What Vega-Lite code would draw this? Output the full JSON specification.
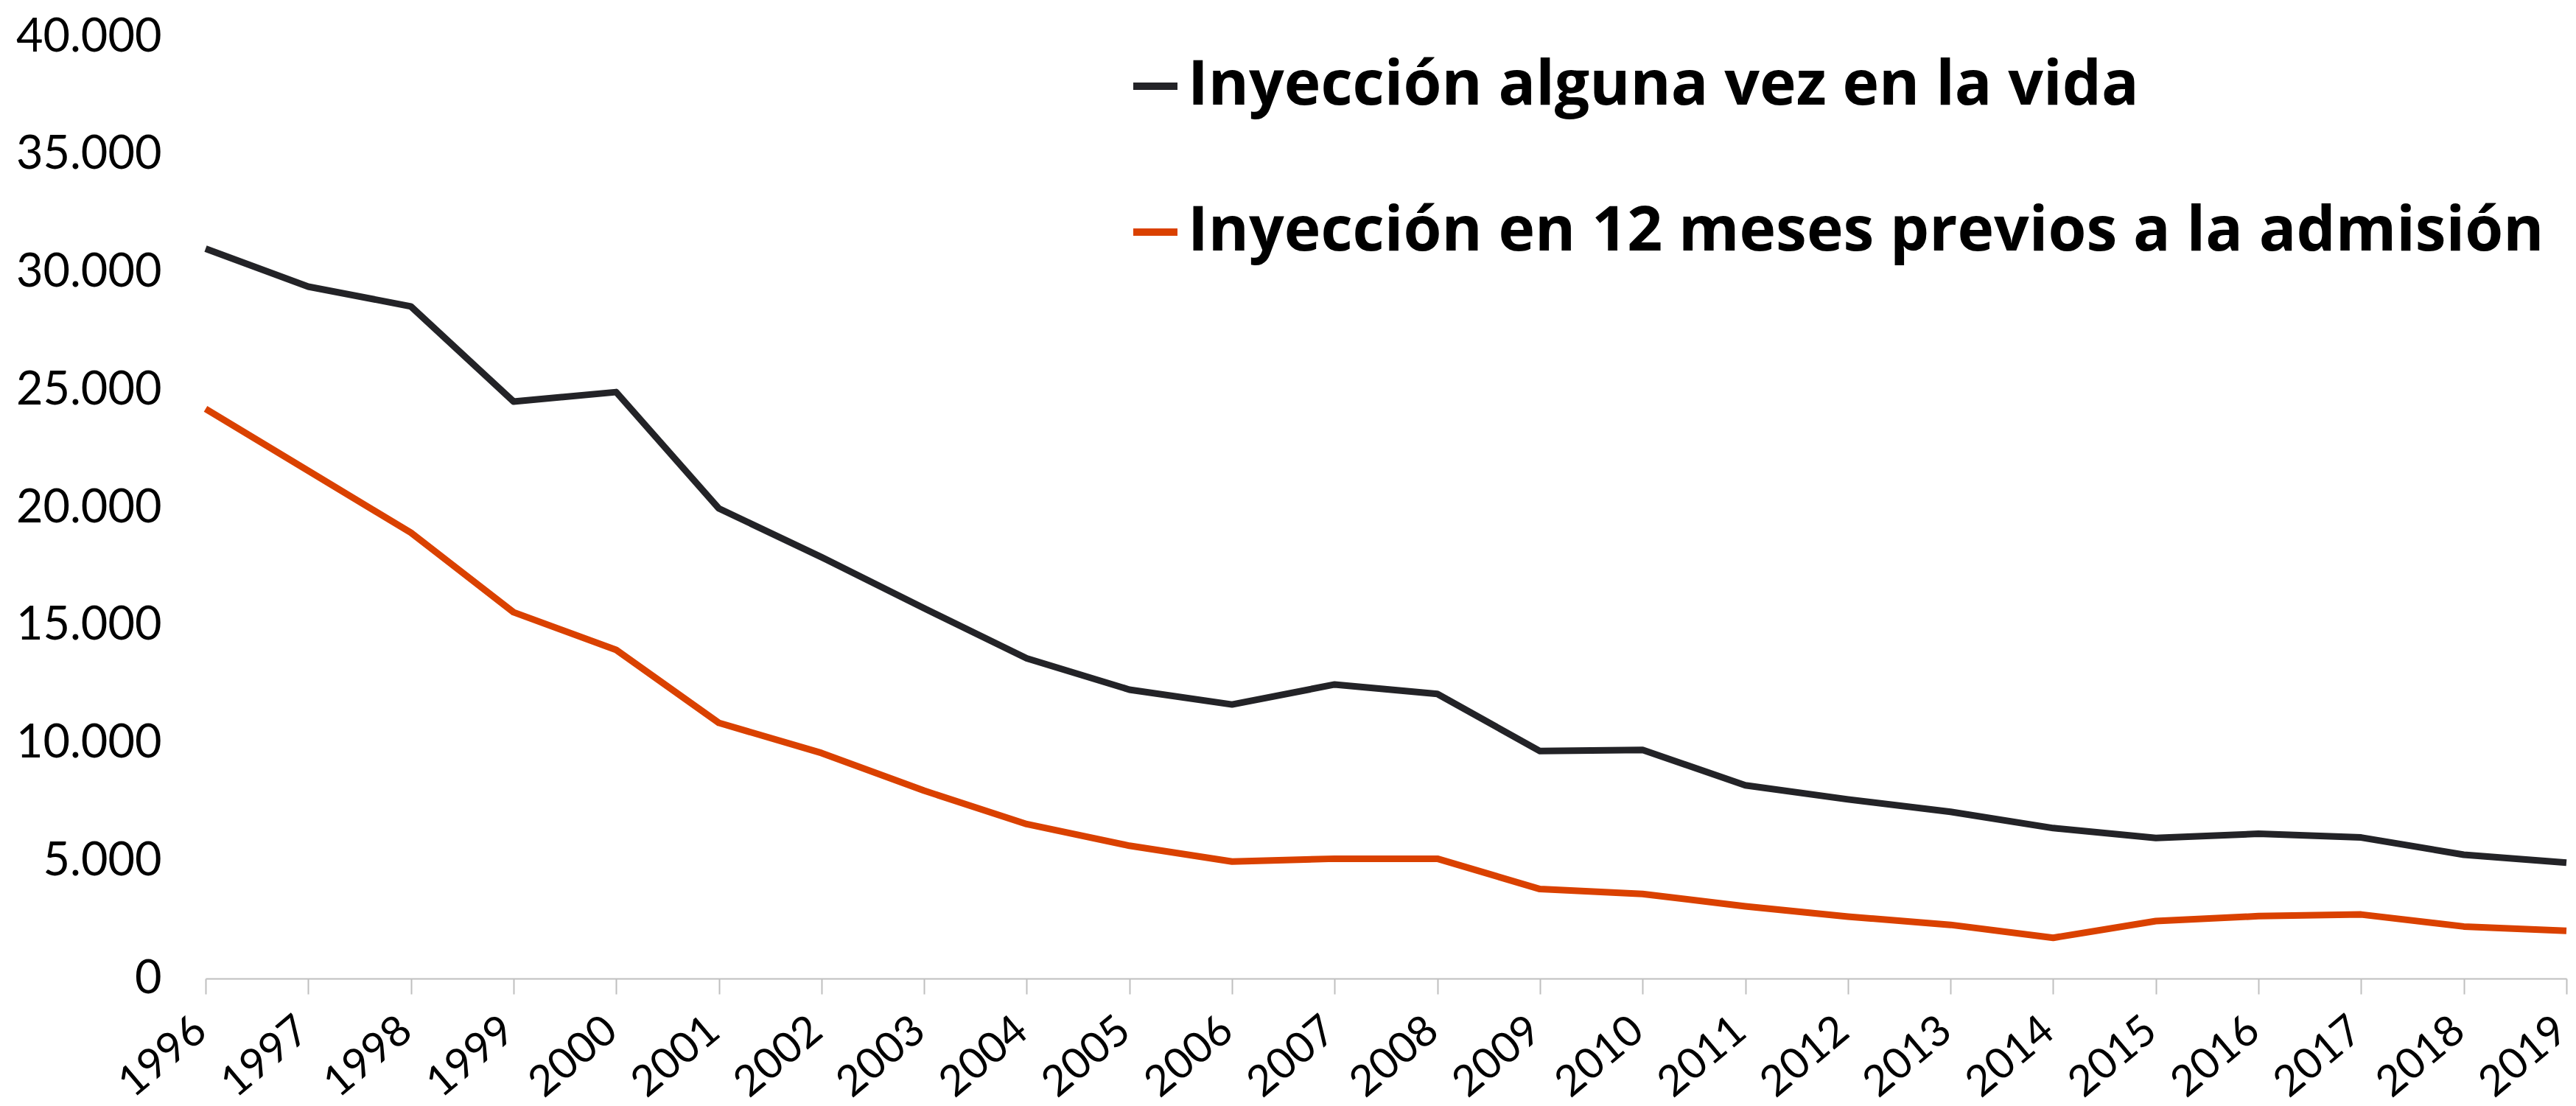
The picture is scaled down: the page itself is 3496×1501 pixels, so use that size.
{
  "$schema": "https://vega.github.io/schema/vega-lite/v6.json",
  "width": 3204,
  "height": 1278,
  "autosize": {"type": "none"},
  "padding": {"left": 279, "top": 50, "right": 13, "bottom": 173},
  "background": "white",
  "config": {
    "view": {"stroke": null},
    "locale": {"number": {"decimal": ",", "thousands": ".", "grouping": [3], "currency": ["", " €"]}}
  },
  "data": {
    "values": [
      {"year": "1996", "serie": "Inyección alguna vez en la vida", "value": 31000},
      {"year": "1997", "serie": "Inyección alguna vez en la vida", "value": 29390},
      {"year": "1998", "serie": "Inyección alguna vez en la vida", "value": 28550},
      {"year": "1999", "serie": "Inyección alguna vez en la vida", "value": 24510},
      {"year": "2000", "serie": "Inyección alguna vez en la vida", "value": 24910},
      {"year": "2001", "serie": "Inyección alguna vez en la vida", "value": 19970},
      {"year": "2002", "serie": "Inyección alguna vez en la vida", "value": 17900},
      {"year": "2003", "serie": "Inyección alguna vez en la vida", "value": 15730},
      {"year": "2004", "serie": "Inyección alguna vez en la vida", "value": 13600},
      {"year": "2005", "serie": "Inyección alguna vez en la vida", "value": 12270},
      {"year": "2006", "serie": "Inyección alguna vez en la vida", "value": 11640},
      {"year": "2007", "serie": "Inyección alguna vez en la vida", "value": 12490},
      {"year": "2008", "serie": "Inyección alguna vez en la vida", "value": 12090},
      {"year": "2009", "serie": "Inyección alguna vez en la vida", "value": 9660},
      {"year": "2010", "serie": "Inyección alguna vez en la vida", "value": 9710},
      {"year": "2011", "serie": "Inyección alguna vez en la vida", "value": 8210},
      {"year": "2012", "serie": "Inyección alguna vez en la vida", "value": 7610},
      {"year": "2013", "serie": "Inyección alguna vez en la vida", "value": 7080},
      {"year": "2014", "serie": "Inyección alguna vez en la vida", "value": 6390},
      {"year": "2015", "serie": "Inyección alguna vez en la vida", "value": 5970},
      {"year": "2016", "serie": "Inyección alguna vez en la vida", "value": 6150},
      {"year": "2017", "serie": "Inyección alguna vez en la vida", "value": 5990},
      {"year": "2018", "serie": "Inyección alguna vez en la vida", "value": 5260},
      {"year": "2019", "serie": "Inyección alguna vez en la vida", "value": 4920},
      {"year": "1996", "serie": "Inyección en 12 meses previos a la admisión", "value": 24200},
      {"year": "1997", "serie": "Inyección en 12 meses previos a la admisión", "value": 21570},
      {"year": "1998", "serie": "Inyección en 12 meses previos a la admisión", "value": 18940},
      {"year": "1999", "serie": "Inyección en 12 meses previos a la admisión", "value": 15560},
      {"year": "2000", "serie": "Inyección en 12 meses previos a la admisión", "value": 13960},
      {"year": "2001", "serie": "Inyección en 12 meses previos a la admisión", "value": 10860},
      {"year": "2002", "serie": "Inyección en 12 meses previos a la admisión", "value": 9580},
      {"year": "2003", "serie": "Inyección en 12 meses previos a la admisión", "value": 7980},
      {"year": "2004", "serie": "Inyección en 12 meses previos a la admisión", "value": 6560},
      {"year": "2005", "serie": "Inyección en 12 meses previos a la admisión", "value": 5640},
      {"year": "2006", "serie": "Inyección en 12 meses previos a la admisión", "value": 4970},
      {"year": "2007", "serie": "Inyección en 12 meses previos a la admisión", "value": 5090},
      {"year": "2008", "serie": "Inyección en 12 meses previos a la admisión", "value": 5090},
      {"year": "2009", "serie": "Inyección en 12 meses previos a la admisión", "value": 3800},
      {"year": "2010", "serie": "Inyección en 12 meses previos a la admisión", "value": 3590},
      {"year": "2011", "serie": "Inyección en 12 meses previos a la admisión", "value": 3070},
      {"year": "2012", "serie": "Inyección en 12 meses previos a la admisión", "value": 2630},
      {"year": "2013", "serie": "Inyección en 12 meses previos a la admisión", "value": 2280},
      {"year": "2014", "serie": "Inyección en 12 meses previos a la admisión", "value": 1730},
      {"year": "2015", "serie": "Inyección en 12 meses previos a la admisión", "value": 2440},
      {"year": "2016", "serie": "Inyección en 12 meses previos a la admisión", "value": 2650},
      {"year": "2017", "serie": "Inyección en 12 meses previos a la admisión", "value": 2720},
      {"year": "2018", "serie": "Inyección en 12 meses previos a la admisión", "value": 2210},
      {"year": "2019", "serie": "Inyección en 12 meses previos a la admisión", "value": 2030}
    ]
  },
  "mark": {"type": "line", "strokeWidth": 9, "strokeJoin": "round"},
  "encoding": {
    "x": {
      "field": "year",
      "type": "ordinal",
      "scale": {"type": "point", "padding": 0},
      "axis": {
        "title": null,
        "domainColor": "#bfbfbf",
        "domainWidth": 2,
        "tickColor": "#bfbfbf",
        "tickWidth": 2,
        "tickSize": 21,
        "labelAngle": -40,
        "labelAlign": "right",
        "labelBaseline": "top",
        "labelPadding": 20,
        "labelOffset": -25,
        "labelFont": "Lato",
        "labelFontSize": 58,
        "labelColor": "black",
        "labelOverlap": false,
        "labelLimit": 0
      }
    },
    "y": {
      "field": "value",
      "type": "quantitative",
      "scale": {"domain": [0, 40000], "nice": false},
      "axis": {
        "title": null,
        "values": [0, 5000, 10000, 15000, 20000, 25000, 30000, 35000, 40000],
        "format": ",d",
        "domain": false,
        "ticks": false,
        "grid": false,
        "labelPadding": 60,
        "labelFont": "Lato",
        "labelFontSize": 63,
        "labelColor": "black",
        "labelLimit": 0
      }
    },
    "color": {
      "field": "serie",
      "type": "nominal",
      "scale": {
        "domain": ["Inyección alguna vez en la vida", "Inyección en 12 meses previos a la admisión"],
        "range": ["#232327", "#DA4100"]
      },
      "legend": {
        "title": null,
        "orient": "none",
        "legendX": 1247,
        "legendY": 25,
        "direction": "vertical",
        "padding": 0,
        "symbolType": "stroke",
        "symbolSize": 3600,
        "symbolStrokeWidth": 10,
        "labelFont": "Open Sans",
        "labelFontSize": 84,
        "labelFontWeight": "bold",
        "labelColor": "black",
        "labelLimit": 0,
        "labelOffset": 2,
        "rowPadding": 114
      }
    }
  }
}
